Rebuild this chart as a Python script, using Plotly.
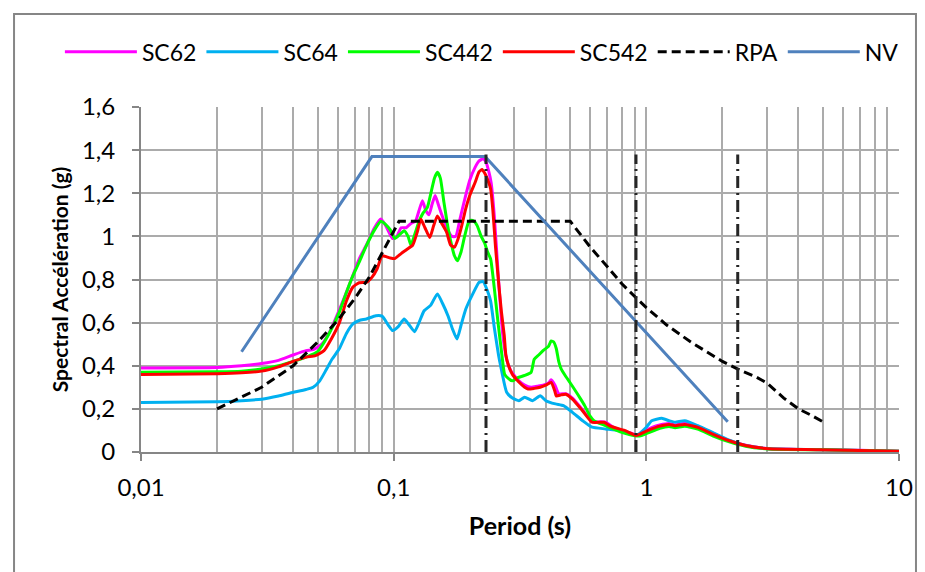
import plotly.graph_objects as go

# ---------------- data ----------------
sc62_T = [0.01, 0.02, 0.025, 0.03, 0.035, 0.04, 0.045, 0.048, 0.052, 0.056, 0.061, 0.066, 0.073, 0.078,
          0.084, 0.089, 0.093, 0.099, 0.103, 0.107, 0.112, 0.117, 0.122, 0.126, 0.13, 0.134, 0.138, 0.142,
          0.146, 0.15, 0.155, 0.162, 0.17, 0.176, 0.183, 0.19, 0.2, 0.21, 0.218, 0.226, 0.232, 0.238, 0.243,
          0.25, 0.26, 0.27, 0.28, 0.29, 0.3, 0.313, 0.33, 0.35, 0.37, 0.39, 0.41, 0.42, 0.435, 0.45, 0.48,
          0.51, 0.56, 0.61, 0.66, 0.69, 0.74, 0.8, 0.86, 0.91, 0.96, 1.0, 1.06, 1.13, 1.23, 1.3, 1.42, 1.6,
          1.85, 2.1, 2.5, 3.0, 4.0, 5.0, 7.0, 10.0]
sc62_Sa = [0.39, 0.392, 0.40, 0.41, 0.425, 0.45, 0.47, 0.475, 0.50, 0.56, 0.66, 0.76, 0.895, 0.96,
           1.04, 1.08, 1.05, 0.99, 1.0, 1.04, 1.04, 1.06, 1.07, 1.12, 1.165, 1.12, 1.10, 1.15,
           1.19, 1.15, 1.10, 1.04, 1.0, 1.0, 1.08, 1.16, 1.26, 1.32, 1.35, 1.36, 1.345, 1.30, 1.25,
           1.10, 0.80, 0.55, 0.43, 0.38, 0.355, 0.33, 0.31, 0.30, 0.305, 0.31, 0.32, 0.335, 0.31, 0.27, 0.27,
           0.25, 0.195, 0.14, 0.14, 0.138, 0.115, 0.10, 0.09, 0.08, 0.085, 0.10, 0.115, 0.125, 0.132, 0.125,
           0.133, 0.117, 0.085, 0.055, 0.03, 0.016, 0.012, 0.011, 0.008, 0.003]

sc64_T = [0.01, 0.02, 0.025, 0.03, 0.035, 0.039, 0.045, 0.048, 0.051, 0.054, 0.057, 0.061, 0.065, 0.069,
          0.073, 0.078, 0.085, 0.09, 0.095, 0.099, 0.104, 0.11, 0.115, 0.121, 0.126, 0.132, 0.14, 0.149,
          0.156, 0.164, 0.171, 0.178, 0.185, 0.193, 0.205, 0.218, 0.226, 0.235, 0.242, 0.25, 0.26, 0.265,
          0.28, 0.295, 0.313, 0.33, 0.355, 0.38, 0.40, 0.437, 0.47, 0.51, 0.56, 0.61, 0.69, 0.78, 0.87,
          0.92, 1.0, 1.05, 1.15, 1.23, 1.3, 1.42, 1.6, 1.85, 2.13, 2.47, 3.05, 5.0, 10.0]
sc64_Sa = [0.23, 0.233, 0.238, 0.245, 0.26, 0.274, 0.29, 0.30, 0.33, 0.38, 0.43, 0.48, 0.55, 0.594,
           0.61, 0.617, 0.632, 0.63, 0.59, 0.563, 0.58, 0.617, 0.59, 0.558, 0.60, 0.655, 0.68, 0.733,
           0.69, 0.632, 0.57, 0.524, 0.59, 0.663, 0.73, 0.787, 0.79, 0.748, 0.70, 0.58, 0.45, 0.40,
           0.277, 0.25, 0.238, 0.254, 0.238, 0.261, 0.238, 0.223, 0.215, 0.184, 0.145, 0.115, 0.107, 0.099, 0.083,
           0.08, 0.115, 0.145, 0.156, 0.145, 0.138, 0.145, 0.122, 0.088, 0.055, 0.03, 0.015, 0.011, 0.003]

sc442_T = [0.01, 0.02, 0.025, 0.03, 0.035, 0.04, 0.045, 0.05, 0.055, 0.061, 0.065, 0.069, 0.073, 0.078,
           0.084, 0.089, 0.093, 0.097, 0.101, 0.106, 0.11, 0.114, 0.117, 0.122, 0.126, 0.131, 0.136, 0.141,
           0.145, 0.149, 0.153, 0.158, 0.163, 0.168, 0.174, 0.179, 0.185, 0.19, 0.197, 0.202, 0.208, 0.214,
           0.222, 0.229, 0.235, 0.242, 0.248, 0.254, 0.26, 0.265, 0.27, 0.275, 0.285, 0.295, 0.31, 0.33,
           0.35, 0.36, 0.375, 0.39, 0.41, 0.42, 0.43, 0.44, 0.45, 0.46, 0.48, 0.50, 0.52, 0.55, 0.57, 0.6,
           0.62, 0.69, 0.8, 0.9, 0.95, 1.0, 1.13, 1.23, 1.3, 1.42, 1.61, 1.83, 2.13, 2.47, 3.05, 5.0, 10.0]
sc442_Sa = [0.37, 0.372, 0.375, 0.385, 0.40, 0.42, 0.44, 0.465, 0.54, 0.65, 0.74, 0.818, 0.88, 0.957,
            1.03, 1.07, 1.055, 1.03, 0.99, 1.01, 1.026, 1.0, 0.96, 1.02, 1.07, 1.11, 1.135, 1.21,
            1.27, 1.297, 1.27, 1.16, 1.06, 0.98, 0.91, 0.887, 0.93, 0.99, 1.06, 1.075, 1.07, 1.05,
            1.0, 0.97, 0.93, 0.895, 0.80, 0.69, 0.58, 0.50, 0.42, 0.36, 0.34, 0.33, 0.345, 0.355,
            0.37, 0.43, 0.45, 0.47, 0.49, 0.515, 0.51, 0.48, 0.42, 0.385, 0.35, 0.32, 0.29, 0.245, 0.215, 0.165,
            0.145, 0.122, 0.091, 0.075, 0.075, 0.085, 0.11, 0.118, 0.113, 0.12, 0.105, 0.075, 0.047, 0.027, 0.014,
            0.01, 0.003]

sc542_T = [0.01, 0.02, 0.025, 0.03, 0.035, 0.04, 0.045, 0.049, 0.053, 0.057, 0.061, 0.065, 0.069, 0.073,
           0.078, 0.082, 0.086, 0.09, 0.094, 0.097, 0.101, 0.107, 0.113, 0.119, 0.124, 0.128, 0.133, 0.139,
           0.144, 0.149, 0.155, 0.162, 0.168, 0.174, 0.18, 0.186, 0.193, 0.2, 0.21, 0.218, 0.224, 0.23,
           0.236, 0.242, 0.247, 0.253, 0.26, 0.267, 0.274, 0.278, 0.285, 0.295, 0.313, 0.33, 0.34, 0.36,
           0.38, 0.40, 0.42, 0.435, 0.44, 0.46, 0.48, 0.51, 0.56, 0.61, 0.68, 0.72, 0.82, 0.91, 1.0, 1.13,
           1.23, 1.3, 1.42, 1.61, 1.83, 2.13, 2.47, 3.05, 4.8, 10.0]
sc542_Sa = [0.36, 0.363, 0.367, 0.375, 0.395, 0.42, 0.44, 0.447, 0.47, 0.53, 0.60, 0.70, 0.765, 0.785,
            0.787, 0.81, 0.85, 0.91, 0.905, 0.90, 0.897, 0.92, 0.94, 0.96, 1.02, 1.08, 1.04, 0.995,
            1.05, 1.095, 1.06, 1.02, 0.96, 0.95, 0.99, 1.05, 1.13, 1.19, 1.25, 1.30, 1.31, 1.29,
            1.26, 1.22, 1.12, 0.95, 0.79, 0.65, 0.54, 0.45, 0.40, 0.36, 0.325, 0.30, 0.292, 0.295,
            0.30, 0.31, 0.323, 0.28, 0.26, 0.265, 0.268, 0.245, 0.19, 0.138, 0.138, 0.12, 0.10, 0.077, 0.097, 0.12,
            0.128, 0.122, 0.128, 0.113, 0.083, 0.052, 0.03, 0.015, 0.011, 0.003]

rpa_T = [0.02, 0.03, 0.04, 0.05, 0.06, 0.07, 0.08, 0.09, 0.1, 0.105, 0.5, 0.6, 0.7, 0.8, 0.92, 1.0,
         1.2, 1.5, 2.0, 2.34, 2.7, 3.0, 3.5, 4.0, 4.5, 5.0]
rpa_Sa = [0.20, 0.30, 0.40, 0.51, 0.61, 0.71, 0.81, 0.92, 1.02, 1.07, 1.07, 0.95, 0.86, 0.78, 0.71, 0.67,
          0.59, 0.51, 0.42, 0.38, 0.35, 0.32, 0.25, 0.20, 0.17, 0.14]

nv_T = [0.025, 0.082, 0.23, 2.1]
nv_Sa = [0.465, 1.37, 1.37, 0.14]

vline_T = [0.232, 0.91, 2.3]
vline_top = 1.38

x_tick_vals = [0.01, 0.1, 1, 10]
x_tick_text = ["0,01", "0,1", "1", "10"]
y_tick_vals = [0, 0.2, 0.4, 0.6, 0.8, 1.0, 1.2, 1.4, 1.6]
y_tick_text = ["0", "0,2", "0,4", "0,6", "0,8", "1", "1,2", "1,4", "1,6"]

# ---------------- figure ----------------
FONT = "Lato"
fig = go.Figure()

series = [
    ("SC62", sc62_T, sc62_Sa, "#FF00FF"),
    ("SC64", sc64_T, sc64_Sa, "#00B0F0"),
    ("SC442", sc442_T, sc442_Sa, "#00FF00"),
    ("SC542", sc542_T, sc542_Sa, "#FF0000"),
]
for name, T, Sa, col in series:
    fig.add_trace(go.Scatter(x=T, y=Sa, name=name, mode="lines",
                             line=dict(color=col, width=3, shape="spline", smoothing=0.5)))

fig.add_trace(go.Scatter(x=rpa_T, y=rpa_Sa, name="RPA", mode="lines",
                         line=dict(color="#000000", width=3, dash="9px,5px")))
fig.add_trace(go.Scatter(x=nv_T, y=nv_Sa, name="NV", mode="lines",
                         line=dict(color="#4F81BD", width=3)))

for i, t in enumerate(vline_T):
    fig.add_trace(go.Scatter(x=[t, t], y=[0, vline_top], mode="lines", showlegend=False,
                             hoverinfo="skip",
                             line=dict(color="#262626", width=3, dash="12px,5px,2px,5px")))

grid_col = "#ABABAB"
minor_vals = [m * d for d in (0.01, 0.1, 1) for m in range(2, 10)]

fig.update_xaxes(type="log", range=[-2, 1],
                 tickvals=x_tick_vals, ticktext=x_tick_text,
                 ticks="outside", ticklen=7, tickwidth=2, tickcolor="#868686",
                 ticklabelstandoff=6,
                 showline=True, linecolor="#868686", linewidth=2,
                 showgrid=True, gridcolor=grid_col, gridwidth=2,
                 minor=dict(tickvals=minor_vals, showgrid=True, gridcolor=grid_col, gridwidth=2, ticks=""),
                 tickfont=dict(family=FONT, size=24, color="#000000"),
                 title=dict(text="Period (s)", font=dict(family=FONT, size=25, color="#000000", weight="bold"),
                            standoff=18),
                 zeroline=False)
fig.update_yaxes(range=[0, 1.6], tickvals=y_tick_vals, ticktext=y_tick_text,
                 ticks="outside", ticklen=7, tickwidth=2, tickcolor="#868686",
                 ticklabelstandoff=12,
                 showline=True, linecolor="#868686", linewidth=2,
                 showgrid=True, gridcolor=grid_col, gridwidth=2,
                 tickfont=dict(family=FONT, size=24, color="#000000"),
                 title=dict(text="Spectral Accélération (g)",
                            font=dict(family=FONT, size=21, color="#000000", weight="bold"), standoff=8),
                 zeroline=False)

fig.add_shape(type="rect", xref="paper", yref="paper", x0=-0.1675, x1=1.0224, y0=-0.40, y1=1.2696,
              line=dict(color="#868686", width=2), fillcolor="rgba(0,0,0,0)", layer="below")

fig.update_layout(
    width=925, height=572,
    margin=dict(l=133, r=34, t=99, b=128),
    paper_bgcolor="white", plot_bgcolor="white",
    font=dict(family=FONT, size=20, color="#000000"),
    showlegend=True,
    legend=dict(orientation="h", x=-0.107, xanchor="left", y=1.16, yanchor="middle",
                font=dict(family=FONT, size=23, color="#000000"), bgcolor="rgba(0,0,0,0)",
                itemwidth=72, tracegroupgap=0),
)

fig.write_html("out.html")
